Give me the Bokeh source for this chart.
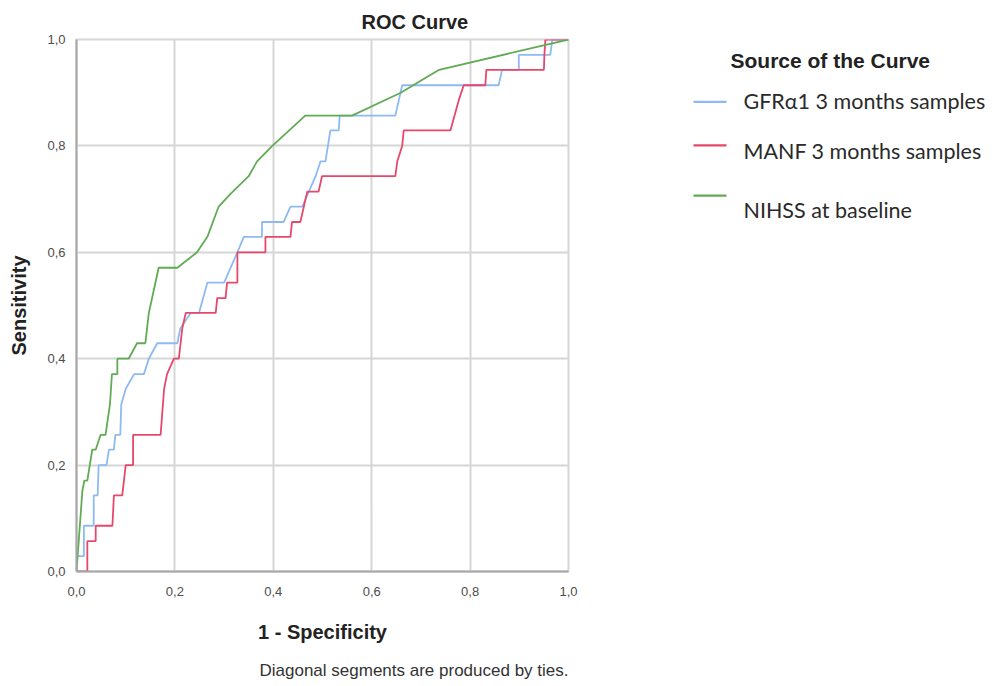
from bokeh.plotting import figure
from bokeh.layouts import row
from bokeh.models import Range1d, FixedTicker, CustomJSTickFormatter, Title
from bokeh.core.properties import value
from bokeh.embed import file_html
from bokeh.resources import INLINE

# ROC coordinates (1 - specificity, sensitivity) for each predictor
gfr_fpr = [0, 0, 0.015, 0.015, 0.035, 0.035, 0.043, 0.045, 0.061, 0.066, 0.076, 0.079, 0.089,
           0.091, 0.1, 0.117, 0.137, 0.147, 0.164, 0.205, 0.211, 0.232, 0.249, 0.266, 0.3,
           0.327, 0.34, 0.377, 0.377, 0.421, 0.435, 0.459, 0.486, 0.496, 0.506, 0.516, 0.533,
           0.535, 0.648, 0.662, 0.858, 0.865, 0.899, 0.899, 0.963, 0.967, 1.0]
gfr_tpr = [0, 0.029, 0.029, 0.086, 0.086, 0.143, 0.143, 0.2, 0.2, 0.229, 0.229, 0.257, 0.257,
           0.314, 0.343, 0.371, 0.371, 0.4, 0.429, 0.429, 0.457, 0.486, 0.486, 0.543, 0.543,
           0.6, 0.629, 0.629, 0.657, 0.657, 0.686, 0.686, 0.743, 0.771, 0.771, 0.829, 0.829,
           0.857, 0.857, 0.914, 0.914, 0.943, 0.943, 0.971, 0.971, 1.0, 1.0]

manf_fpr = [0, 0.022, 0.022, 0.039, 0.039, 0.073, 0.076, 0.093, 0.1, 0.115, 0.115, 0.171,
            0.178, 0.184, 0.198, 0.208, 0.215, 0.222, 0.283, 0.286, 0.303, 0.306, 0.327, 0.327,
            0.384, 0.384, 0.435, 0.438, 0.455, 0.469, 0.492, 0.499, 0.648, 0.652, 0.662, 0.665,
            0.76, 0.777, 0.787, 0.831, 0.833, 0.95, 0.951, 0.953, 1.0]
manf_tpr = [0, 0, 0.057, 0.057, 0.086, 0.086, 0.143, 0.143, 0.2, 0.2, 0.257, 0.257,
            0.343, 0.371, 0.4, 0.4, 0.457, 0.486, 0.486, 0.514, 0.514, 0.543, 0.543, 0.6,
            0.6, 0.629, 0.629, 0.657, 0.657, 0.714, 0.714, 0.743, 0.743, 0.771, 0.8, 0.829,
            0.829, 0.886, 0.914, 0.914, 0.943, 0.943, 0.971, 1.0, 1.0]

nihss_fpr = [0, 0.012, 0.016, 0.022, 0.032, 0.039, 0.049, 0.059, 0.068, 0.072, 0.083, 0.083,
             0.106, 0.123, 0.14, 0.147, 0.167, 0.205, 0.245, 0.266, 0.289, 0.313, 0.35, 0.367,
             0.398, 0.465, 0.56, 0.659, 0.737, 1.0]
nihss_tpr = [0, 0.152, 0.171, 0.171, 0.229, 0.229, 0.257, 0.257, 0.314, 0.371, 0.371, 0.4,
             0.4, 0.429, 0.429, 0.486, 0.571, 0.571, 0.6, 0.629, 0.686, 0.71, 0.743, 0.771,
             0.8, 0.857, 0.857, 0.9, 0.943, 1.0]

series_names = ["GFR\u03b11 3 months samples", "MANF 3 months samples", "NIHSS at baseline"]
series_colors = ["#8dbaf3", "#e6486c", "#62ab55"]
ticks = [0, 0.2, 0.4, 0.6, 0.8, 1.0]

AXIS_FONT = "Liberation Sans"

p = figure(frame_width=492, frame_height=532,
           min_border_left=76, min_border_right=32, min_border_top=39, min_border_bottom=115,
           x_range=Range1d(0, 1), y_range=Range1d(0, 1),
           output_backend="svg", toolbar_location=None,
           background_fill_color="white", border_fill_color="white")

p.title.text = "ROC Curve"
p.title.align = "left"
p.title.offset = 285
p.title.text_font = AXIS_FONT
p.title.text_font_size = "20px"
p.title.text_font_style = "bold"
p.title.text_color = "#222222"
p.title.standoff = 14

curves = [(gfr_fpr, gfr_tpr), (manf_fpr, manf_tpr), (nihss_fpr, nihss_tpr)]
for (xs, ys), color in zip(curves, series_colors):
    p.line(xs, ys, line_color=color, line_width=1.8)

for ax in (p.xaxis, p.yaxis):
    ax.ticker = FixedTicker(ticks=ticks)
    ax.formatter = CustomJSTickFormatter(code="return tick.toFixed(1).replace('.', ',');")
    ax.major_tick_line_color = None
    ax.minor_tick_line_color = None
    ax.axis_line_color = "#a6a6a6"
    ax.axis_line_width = 2
    ax.major_label_text_font = AXIS_FONT
    ax.major_label_text_font_size = "13px"
    ax.major_label_text_color = "#4d4d4d"
    ax.axis_label_text_font = AXIS_FONT
    ax.axis_label_text_font_style = "bold"
    ax.axis_label_text_font_size = "20px"
    ax.axis_label_text_color = "#222222"

p.xaxis.axis_label = "1 - Specificity"
p.xaxis.major_label_standoff = 9
p.xaxis.axis_label_standoff = 22
p.yaxis.axis_label = "Sensitivity"
p.yaxis.major_label_standoff = 5
p.yaxis.axis_label_standoff = 14

p.grid.grid_line_color = "#d6d6d6"
p.grid.grid_line_width = 2
p.outline_line_color = "#d6d6d6"
p.outline_line_width = 2

note = Title(text="Diagonal segments are produced by ties.", align="right",
             text_font=AXIS_FONT, text_font_size="17px", text_font_style="normal",
             text_color="#333333", standoff=26)
p.add_layout(note, "below")

# Legend panel; its frame lines up with the chart frame (rows 39..571 of the page)
leg = figure(width=392, height=686, x_range=Range1d(600, 992), y_range=Range1d(571, 39),
             min_border=0, output_backend="svg", toolbar_location=None,
             background_fill_color="white", border_fill_color="white")
leg.axis.visible = False
leg.grid.visible = False
leg.outline_line_color = None

leg.text(x=[730], y=[60], text=["Source of the Curve"], text_font=value(AXIS_FONT),
         text_font_size="21px", text_font_style="bold", text_color="#222222",
         text_baseline="middle", text_align="left")

line_y = [102, 146, 197]
text_y = [101, 152, 211]
for name, color, ly, ty in zip(series_names, series_colors, line_y, text_y):
    leg.line([693, 726], [ly, ly], line_color=color, line_width=2.2)
    leg.text(x=[743], y=[ty], text=[name], text_font=value("Lato"), text_font_size="21.5px",
             text_color="#2a2a2a", text_baseline="middle", text_align="left")

layout = row(p, leg, spacing=0)
open("out.html", "w").write(file_html(layout, INLINE))
